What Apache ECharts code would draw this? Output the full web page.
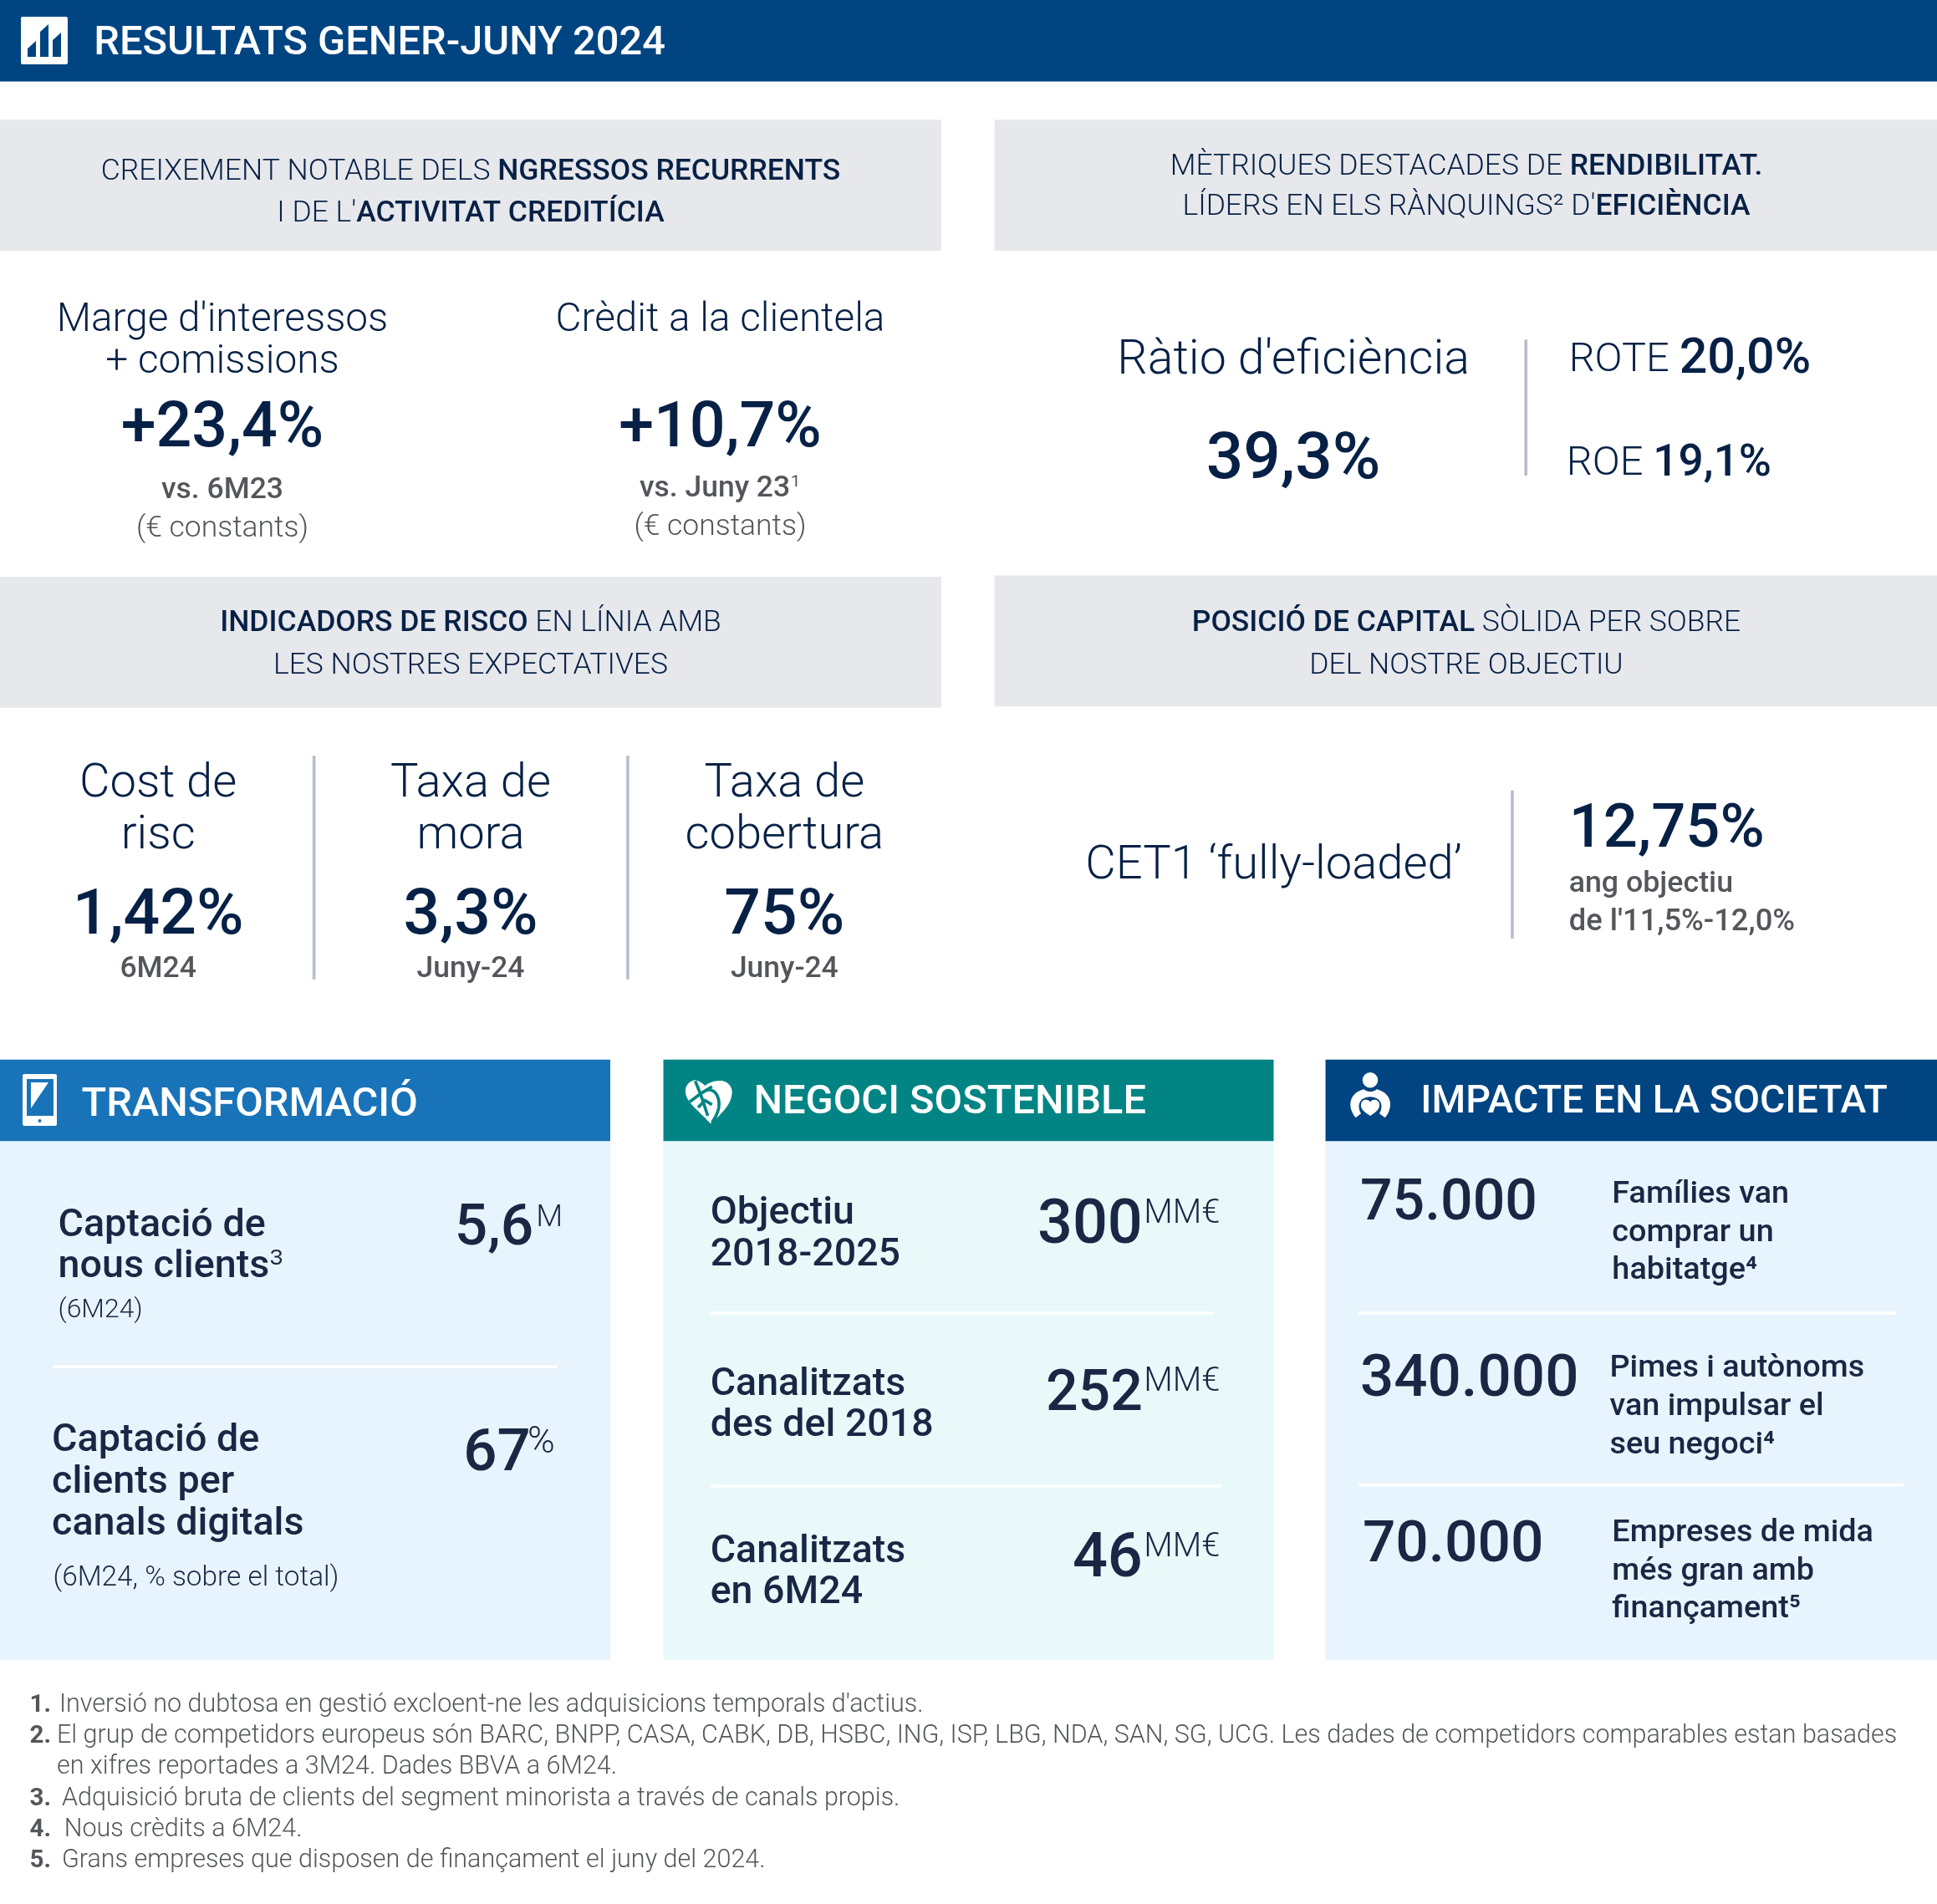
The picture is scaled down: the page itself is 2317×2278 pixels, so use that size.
<!DOCTYPE html>
<html>
<head>
<meta charset="utf-8">
<title>Resultats gener-juny 2024</title>
<script src="https://cdn.jsdelivr.net/npm/echarts@6/dist/echarts.min.js"></script>
<style>
html, body { margin: 0; padding: 0; background: #fff; }
#main { width: 2317px; height: 2278px; }
</style>
</head>
<body>
<div id="main"></div>
<script>
// texts and values
var pageTitle = 'RESULTATS GENER-JUNY 2024';
var bandTexts = [
    ['CREIXEMENT NOTABLE DELS {b|NGRESSOS RECURRENTS}', "I DE L'{b|ACTIVITAT CREDITÍCIA}"],
    ['MÈTRIQUES DESTACADES DE {b|RENDIBILITAT.}', "LÍDERS EN ELS RÀNQUINGS² D'{b|EFICIÈNCIA}"],
    ['{b|INDICADORS DE RISCO} EN LÍNIA AMB', 'LES NOSTRES EXPECTATIVES'],
    ['{b|POSICIÓ DE CAPITAL} SÒLIDA PER SOBRE', 'DEL NOSTRE OBJECTIU']
];
var growthLabels = [["Marge d'interessos", '+ comissions'], ['Crèdit a la clientela']];
var growthValues = ['+23,4%', '+10,7%'];
var growthNotes = [['vs. 6M23', '(€ constants)'], ['vs. Juny 23{s|¹}', '(€ constants)']];
var efficiencyLabel = "Ràtio d'eficiència";
var efficiencyValue = '39,3%';
var returnTexts = ['ROTE {b|20,0%}', 'ROE {b|19,1%}'];
var riskLabels = [['Cost de', 'risc'], ['Taxa de', 'mora'], ['Taxa de', 'cobertura']];
var riskValues = ['1,42%', '3,3%', '75%'];
var riskPeriods = ['6M24', 'Juny-24', 'Juny-24'];
var capitalLabel = 'CET1 ‘fully-loaded’';
var capitalValue = '12,75%';
var capitalNotes = ['ang objectiu', "de l'11,5%-12,0%"];
var panelTitles = ['TRANSFORMACIÓ', 'NEGOCI SOSTENIBLE', 'IMPACTE EN LA SOCIETAT'];
var transformLabels = [['Captació de', 'nous clients{s|³}'], ['Captació de', 'clients per', 'canals digitals']];
var transformNotes = ['(6M24)', '(6M24, % sobre el total)'];
var transformValues = ['5,6', '67'];
var transformUnits = ['M', '%'];
var sustainLabels = [['Objectiu', '2018-2025'], ['Canalitzats', 'des del 2018'], ['Canalitzats', 'en 6M24']];
var sustainValues = ['300', '252', '46'];
var sustainUnit = 'MM€';
var societyValues = ['75.000', '340.000', '70.000'];
var societyLabels = [
    ['Famílies van', 'comprar un', 'habitatge⁴'],
    ['Pimes i autònoms', 'van impulsar el', 'seu negoci⁴'],
    ['Empreses de mida', 'més gran amb', 'finançament⁵']
];
var footnoteNumbers = ['1.', '2.', '', '3.', '4.', '5.'];
var footnoteTexts = [
    "Inversió no dubtosa en gestió excloent-ne les adquisicions temporals d'actius.",
    'El grup de competidors europeus són BARC, BNPP, CASA, CABK, DB, HSBC, ING, ISP, LBG, NDA, SAN, SG, UCG. Les dades de competidors comparables estan basades',
    'en xifres reportades a 3M24. Dades BBVA a 6M24.',
    'Adquisició bruta de clients del segment minorista a través de canals propis.',
    'Nous crèdits a 6M24.',
    'Grans empreses que disposen de finançament el juny del 2024.'
];

var NAVY = '#072146', INK = '#1a2744', GREY = '#53565a', RULE = '#b5bdcb';
var FONT = 'Roboto';
// layout below was taken on a 1568 wide view of the picture
var k = 2317 / 1568;
var els = [];

function box(x, y, w, h, fill) {
    els.push({ type: 'rect', shape: { x: x * k, y: y * k, width: w * k, height: h * k }, style: { fill: fill } });
}
function txt(x, y, text, size, weight, color, align, boldSize) {
    els.push({
        type: 'text',
        x: x * k,
        // roboto sits high in its line box, push it down a bit
        y: (y + size * 0.09) * k,
        style: {
            text: text,
            fontFamily: FONT,
            fontSize: size * k,
            fontWeight: weight,
            fill: color,
            textAlign: align || 'left',
            textVerticalAlign: 'middle',
            rich: {
                b: { fontFamily: FONT, fontSize: (boldSize || size) * k, fontWeight: 500, fill: color },
                s: { fontFamily: FONT, fontSize: size * k, fontWeight: 300, fill: color }
            }
        }
    });
}
// icon outlines are typed as M/L/C/Q/Z segments and flattened into polygon points
function flatten(d) {
    var tok = d.match(/[MLCQZ]|-?[\d.]+/g), pts = [], i = 0, cmd, a, b, c, p, t, j;
    while (i < tok.length) {
        if (/[MLCQZ]/.test(tok[i])) { cmd = tok[i++]; if (cmd === 'Z') continue; }
        if (cmd === 'C') {
            p = pts[pts.length - 1];
            a = [+tok[i], +tok[i + 1]]; b = [+tok[i + 2], +tok[i + 3]]; c = [+tok[i + 4], +tok[i + 5]]; i += 6;
            for (j = 1; j <= 16; j++) {
                t = j / 16;
                pts.push([
                    (1 - t) * (1 - t) * (1 - t) * p[0] + 3 * (1 - t) * (1 - t) * t * a[0] + 3 * (1 - t) * t * t * b[0] + t * t * t * c[0],
                    (1 - t) * (1 - t) * (1 - t) * p[1] + 3 * (1 - t) * (1 - t) * t * a[1] + 3 * (1 - t) * t * t * b[1] + t * t * t * c[1]
                ]);
            }
        } else if (cmd === 'Q') {
            p = pts[pts.length - 1];
            a = [+tok[i], +tok[i + 1]]; c = [+tok[i + 2], +tok[i + 3]]; i += 4;
            for (j = 1; j <= 12; j++) {
                t = j / 12;
                pts.push([
                    (1 - t) * (1 - t) * p[0] + 2 * (1 - t) * t * a[0] + t * t * c[0],
                    (1 - t) * (1 - t) * p[1] + 2 * (1 - t) * t * a[1] + t * t * c[1]
                ]);
            }
        } else {
            pts.push([+tok[i], +tok[i + 1]]); i += 2;
        }
    }
    return pts;
}
function icon(d, ox, oy, scale, fill) {
    els.push({ type: 'polygon', x: ox, y: oy, scaleX: scale, scaleY: scale, shape: { points: flatten(d) }, style: { fill: fill } });
}
function vein(d, ox, oy, scale, color, width) {
    els.push({ type: 'polyline', x: ox, y: oy, scaleX: scale, scaleY: scale, shape: { points: flatten(d) }, style: { fill: 'none', stroke: color, lineWidth: width } });
}

// header
box(0, 0, 1568, 66, '#004481');
txt(76, 33, pageTitle, 33, 500, '#fff');
els.push({ type: 'rect', shape: { x: 25, y: 20, width: 56, height: 57, r: 2 }, style: { fill: '#fff' } });
icon('M33 68L33 58L43 49L43 68Z', 0, 0, 1, '#004481');
icon('M48 68L48 38L58 29L58 68Z', 0, 0, 1, '#004481');
icon('M63 68L63 48L73 39L73 68Z', 0, 0, 1, '#004481');

// grey bands
var bandBoxes = [[0, 97], [805, 97], [0, 467], [805, 466]];
var bandWidths = [762, 763, 762, 763];
var bandCentres = [381, 1187, 381, 1187];
var bandLines = [[137, 171], [133, 166], [503, 537], [503, 537]];
bandTexts.forEach(function (lines, i) {
    box(bandBoxes[i][0], bandBoxes[i][1], bandWidths[i], 106, '#e7e8ec');
    lines.forEach(function (line, j) {
        txt(bandCentres[i], bandLines[i][j], line, 24, 300, NAVY, 'center');
    });
});

// growth block
var growthX = [180, 583];
growthLabels.forEach(function (lines, i) {
    lines.forEach(function (line, j) {
        txt(growthX[i], 257 + j * 34, line, 32.3, 300, NAVY, 'center');
    });
    txt(growthX[i], 344, growthValues[i], 51, 500, NAVY, 'center');
    txt(growthX[i], 395 - i, growthNotes[i][0], 24, 500, GREY, 'center');
    txt(growthX[i], 426 - i, growthNotes[i][1], 24, 300, GREY, 'center');
});

// efficiency block
txt(1047, 289, efficiencyLabel, 38.8, 300, NAVY, 'center');
txt(1047, 369, efficiencyValue, 53, 500, NAVY, 'center');
box(1234, 275, 2.4, 110, RULE);
txt(1270, 289, returnTexts[0], 33, 300, NAVY, 'left', 40);
txt(1268, 373, returnTexts[1], 33, 300, NAVY, 'left', 36);

// risk block
var riskX = [128, 381, 635];
riskLabels.forEach(function (lines, i) {
    lines.forEach(function (line, j) {
        txt(riskX[i], 632 + j * 42, line, 38, 300, NAVY, 'center');
    });
    txt(riskX[i], 738, riskValues[i], 52, 500, NAVY, 'center');
    txt(riskX[i], 783, riskPeriods[i], 24, 500, GREY, 'center');
});
box(253, 612, 2.4, 181, RULE);
box(507, 612, 2.4, 181, RULE);

// capital block
txt(1031, 698, capitalLabel, 38, 300, NAVY, 'center');
box(1223, 640, 2.4, 120, RULE);
txt(1270, 669, capitalValue, 49, 500, NAVY);
txt(1270, 714, capitalNotes[0], 24.2, 500, GREY);
txt(1270, 745, capitalNotes[1], 24.6, 500, GREY);

// bottom panels
var panelX = [0, 537, 1073];
var panelW = [494, 494, 495];
var panelHead = ['#1973b8', '#028484', '#004481'];
var panelBody = ['#e8f4fd', '#e9f9fa', '#e8f4fd'];
var panelTitleX = [66, 610, 1150];
var panelTitleY = [892, 890, 890];
var panelTitleSize = [33, 33, 31.5];
panelTitles.forEach(function (title, i) {
    box(panelX[i], 858, panelW[i], 66, panelHead[i]);
    box(panelX[i], 924, panelW[i], 420, panelBody[i]);
    txt(panelTitleX[i], panelTitleY[i], title, panelTitleSize[i], 500, '#fff');
});

// phone icon
els.push({ type: 'rect', shape: { x: 27, y: 1285, width: 41, height: 62, r: 2 }, style: { fill: '#fff' } });
els.push({ type: 'rect', shape: { x: 32, y: 1291, width: 32, height: 44 }, style: { fill: '#1973b8' } });
icon('M37 1295L58 1295L37 1326Z', 0, 0, 1, '#fff');
els.push({ type: 'circle', shape: { cx: 47.5, cy: 1341, r: 2 }, style: { fill: '#1973b8' } });
// heart leaf icon
icon('M65 22C40 25 28 45 30 65C32 100 70 125 120 178L140 160C170 130 195 105 197 65C197 40 175 22 150 24C130 25 112 32 100 42C90 32 78 24 65 22Z', 810, 1285, 1 / 3, '#fff');
vein('M100 60C125 50 145 65 150 100C152 130 140 150 125 175', 810, 1285, 1 / 3, '#028484', 11);
vein('M65 25L85 75L110 150', 810, 1285, 1 / 3, '#028484', 11);
vein('M45 100L85 70L125 45', 810, 1285, 1 / 3, '#028484', 11);
vein('M75 120L100 95L125 110', 810, 1285, 1 / 3, '#028484', 11);
// person and heart icon
els.push({ type: 'circle', shape: { cx: 1639, cy: 1292.3, r: 9.2 }, style: { fill: '#fff' } });
icon('M65 187C30 145 45 95 95 85Q117 102 140 85C190 95 205 145 170 187L150 172C168 140 152 112 117 112C82 112 66 140 84 172Z', 1600, 1275, 1 / 3, '#fff');
icon('M117 130C105 115 82 122 84 145C85 160 105 172 117 180C130 172 148 160 150 145C152 122 130 115 117 130Z', 1600, 1275, 1 / 3, '#fff');

// transformacio
var transformY = [[990, 1023], [1164, 1198, 1232]];
var transformLeft = [47, 42];
var transformNoteY = [1059, 1276];
var transformNoteX = [47, 43];
var transformNoteSize = [21.6, 22.6];
var transformValueX = [368, 375];
var transformValueY = [992, 1174];
var transformValueSize = [47, 48];
var transformUnitX = [434, 427];
var transformUnitY = [984, 1166];
var transformUnitSize = [25, 30];
transformLabels.forEach(function (lines, i) {
    lines.forEach(function (line, j) {
        txt(transformLeft[i], transformY[i][j], line, 31.6, 500, INK);
    });
    txt(transformNoteX[i], transformNoteY[i], transformNotes[i], transformNoteSize[i], 300, INK);
    txt(transformValueX[i], transformValueY[i], transformValues[i], transformValueSize[i], 500, INK);
    txt(transformUnitX[i], transformUnitY[i], transformUnits[i], transformUnitSize[i], 300, INK);
});
box(43, 1105.5, 408, 2.4, '#fff');

// negoci sostenible
var sustainLabelY = [[980, 1014], [1119, 1152], [1254, 1287]];
var sustainValueY = [989, 1126, 1259];
var sustainValueSize = [50, 46, 50];
var sustainUnitY = [981, 1117, 1251];
sustainLabels.forEach(function (lines, i) {
    lines.forEach(function (line, j) {
        txt(575, sustainLabelY[i][j], line, 31.5, 500, INK);
    });
    txt(925, sustainValueY[i], sustainValues[i], sustainValueSize[i], 500, INK, 'right');
    txt(926, sustainUnitY[i], sustainUnit, 27, 300, INK);
});
box(575, 1062, 407, 2.4, '#fff');
box(575, 1202, 413, 2.4, '#fff');

// impacte en la societat
var societyValueX = [1101, 1101, 1103];
var societyValueY = [972, 1114, 1248];
var societyValueSize = [46, 48, 47];
var societyLabelX = [1305, 1303, 1305];
var societyLabelY = [965, 1106, 1239];
societyValues.forEach(function (value, i) {
    txt(societyValueX[i], societyValueY[i], value, societyValueSize[i], 500, INK);
    societyLabels[i].forEach(function (line, j) {
        txt(societyLabelX[i], societyLabelY[i] + j * 31, line, 25.6, 500, INK);
    });
});
box(1100, 1062, 435, 2.4, '#fff');
box(1100, 1201, 441, 2.4, '#fff');

// footnotes
var footnoteY = [1379, 1404, 1429, 1455, 1480, 1505];
var footnoteX = [48, 46, 46, 50, 52, 50];
footnoteTexts.forEach(function (note, i) {
    if (footnoteNumbers[i]) {
        txt(24, footnoteY[i], footnoteNumbers[i], 20, 700, GREY);
    }
    txt(footnoteX[i], footnoteY[i], note, 20.65, 300, GREY);
});

var myChart = echarts.init(document.getElementById('main'), null, { renderer: 'canvas' });
myChart.setOption({
    backgroundColor: '#fff',
    animation: false,
    graphic: { elements: els }
});
</script>
</body>
</html>
